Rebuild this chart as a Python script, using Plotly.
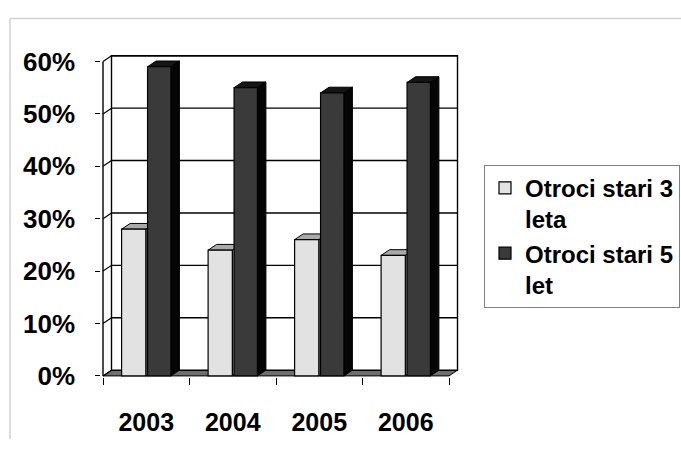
import plotly.graph_objects as go

# ---- data -------------------------------------------------------------
years = ["2003", "2004", "2005", "2006"]
otroci_3_leta = [0.28, 0.24, 0.26, 0.23]
otroci_5_let = [0.59, 0.55, 0.54, 0.56]
series_names = ["Otroci stari 3<br>leta", "Otroci stari 5<br>let"]
y_ticks = [0, 0.1, 0.2, 0.3, 0.4, 0.5, 0.6]
y_tick_labels = ["0%", "10%", "20%", "30%", "40%", "50%", "60%"]

# ---- geometry ----------------------------------------------------------
W, H = 681, 452
X_LEFT_PX = 103      # pixel of the left wall (x = -0.5)
X_UNIT_PX = 86.5     # pixels per category
Y_ZERO_PX = 386      # pixel of the 0 % floor edge
Y_UNIT_PX = 548.3    # pixels per 100 %
DX = 8.5 / X_UNIT_PX  # depth offset of the 3-D look, in data units
DY = 6.0 / Y_UNIT_PX

n = len(years)
x_pos = list(range(n))
x_min = -0.5 - 0.02
x_max = n - 0.5 + DX + 0.03
y_min = -0.003
y_max = y_ticks[-1] + DY + 0.004


def px_x(v):
    return X_LEFT_PX + (v + 0.5) * X_UNIT_PX


def px_y(v):
    return Y_ZERO_PX - v * Y_UNIT_PX


dom_x = [px_x(x_min) / W, px_x(x_max) / W]
dom_y = [1 - px_y(y_min) / H, 1 - px_y(y_max) / H]

# bar placement inside each category
W3, OFF3 = 0.28, -0.285
W5, OFF5 = 0.27, 0.015

LIGHT_FRONT, LIGHT_TOP, LIGHT_SIDE = "#e2e2e2", "#a9a9a9", "#9a9a9a"
DARK_FRONT, DARK_TOP, DARK_SIDE = "#3a3a3a", "#151515", "#050505"
FONT = "Liberation Sans, Arial, sans-serif"

shapes = []


def poly(points, fill, width=1.0, color="black", layer="below"):
    path = "M " + " L ".join(f"{x},{y}" for x, y in points) + " Z"
    shapes.append(dict(type="path", path=path, xref="x", yref="y",
                       fillcolor=fill, line=dict(color=color, width=width),
                       layer=layer))


def seg(x0, y0, x1, y1, color="black", width=1.2, layer="below"):
    shapes.append(dict(type="line", xref="x", yref="y", x0=x0, y0=y0,
                       x1=x1, y1=y1, line=dict(color=color, width=width),
                       layer=layer))


left, right = -0.5, n - 0.5
top = y_ticks[-1]

# floor
poly([(left, 0), (right, 0), (right + DX, DY), (left + DX, DY)], "#6f6f6f")
# back wall
poly([(left + DX, DY), (right + DX, DY), (right + DX, top + DY),
      (left + DX, top + DY)], "white", width=1.4)
# gridlines on the back wall and the left side wall
for v in y_ticks[1:]:
    seg(left + DX, v + DY, right + DX, v + DY, width=1.4)
for v in y_ticks:
    seg(left, v, left + DX, v + DY, width=1.2)
seg(left, 0, left, top, width=1.4)

# 3-D top and side faces of the columns
for i, (a, b) in enumerate(zip(otroci_3_leta, otroci_5_let)):
    for val, off, wd, topc, sidec in ((a, OFF3, W3, LIGHT_TOP, LIGHT_SIDE),
                                      (b, OFF5, W5, DARK_TOP, DARK_SIDE)):
        x0 = i + off
        x1 = x0 + wd
        poly([(x1, 0), (x1 + DX, DY), (x1 + DX, val + DY), (x1, val)], sidec)
        poly([(x0, val), (x1, val), (x1 + DX, val + DY), (x0 + DX, val + DY)],
             topc)

# outer chart frame
shapes.append(dict(type="line", xref="paper", yref="paper", x0=10 / W,
                   y0=1 - 12 / H, x1=1, y1=1 - 12 / H,
                   line=dict(color="#d2d2d2", width=1.5), layer="below"))
shapes.append(dict(type="line", xref="paper", yref="paper", x0=10 / W,
                   y0=1 - 12 / H, x1=10 / W, y1=0,
                   line=dict(color="#d2d2d2", width=1.5), layer="below"))

fig = go.Figure()
fig.add_trace(go.Bar(x=x_pos, y=otroci_3_leta, name=series_names[0],
                     width=W3, offset=OFF3,
                     marker=dict(color=LIGHT_FRONT,
                                 line=dict(color="black", width=1.2))))
fig.add_trace(go.Bar(x=x_pos, y=otroci_5_let, name=series_names[1],
                     width=W5, offset=OFF5,
                     marker=dict(color=DARK_FRONT,
                                 line=dict(color="black", width=1.2))))

fig.update_layout(
    width=W, height=H,
    margin=dict(l=0, r=0, t=0, b=0),
    paper_bgcolor="white", plot_bgcolor="rgba(0,0,0,0)",
    barmode="overlay",
    shapes=shapes,
    showlegend=True,
    font=dict(family=FONT, color="black", weight="bold"),
    legend=dict(x=484 / W, y=1 - 165 / H, xanchor="left", yanchor="top",
                bgcolor="white", bordercolor="#808080", borderwidth=1,
                font=dict(family=FONT, size=24, color="black", weight="bold"),
                valign="top", traceorder="normal", tracegroupgap=6),
    xaxis=dict(domain=dom_x, range=[x_min, x_max], tickvals=x_pos,
               ticktext=years, ticks="", showgrid=False, zeroline=False,
               showline=False, ticklabelstandoff=28,
               tickfont=dict(family=FONT, size=25, color="black",
                             weight="bold"),
               minor=dict(tickvals=[v - 0.5 for v in range(n + 1)],
                          ticks="outside", ticklen=7, tickwidth=1.4,
                          tickcolor="black", showgrid=False)),
    yaxis=dict(domain=dom_y, range=[y_min, y_max], tickvals=y_ticks,
               ticktext=y_tick_labels, ticks="outside", ticklen=5,
               tickwidth=1.4, tickcolor="black", showgrid=False,
               zeroline=False, showline=False, ticklabelstandoff=15,
               tickfont=dict(family=FONT, size=26, color="black",
                             weight="bold")),
)

fig.write_html("out.html")
